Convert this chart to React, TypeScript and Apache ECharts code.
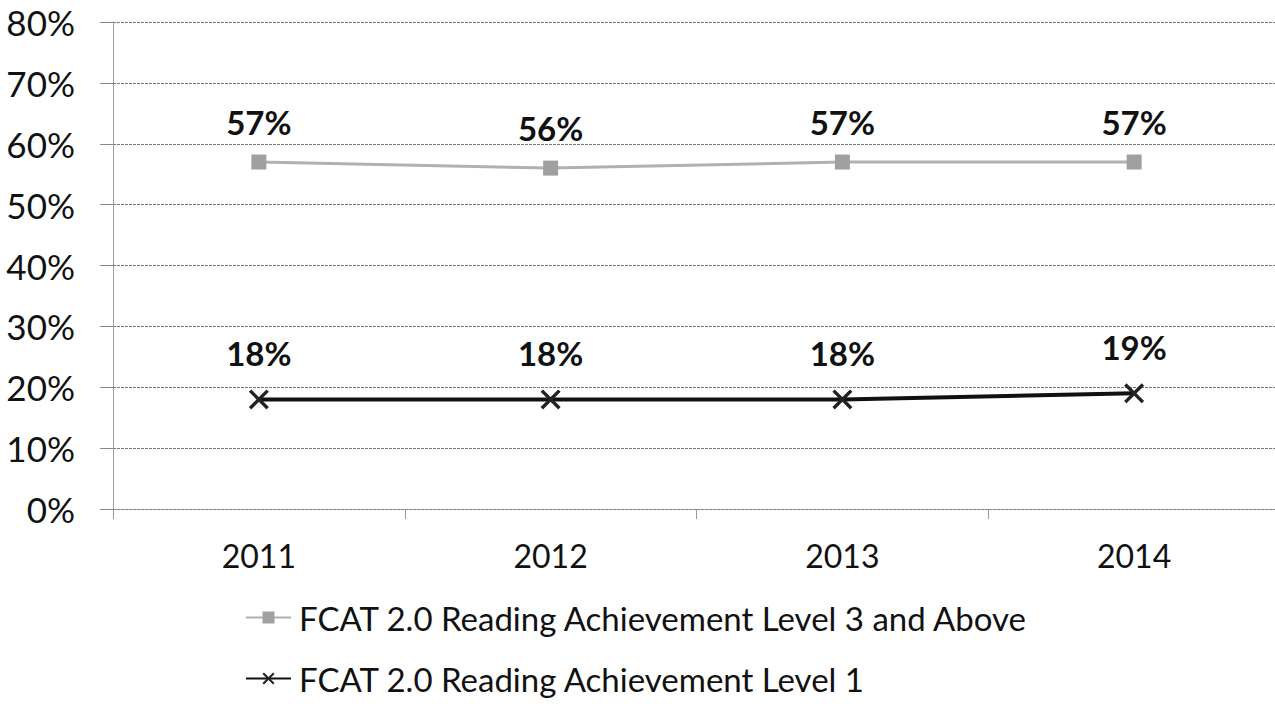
import React, { useEffect, useRef } from "react";
import * as echarts from "echarts";

const years = ["2011", "2012", "2013", "2014"];
const level3AndAbove = [57, 56, 57, 57];
const level1 = [18, 18, 18, 19];
const seriesNames = [
  "FCAT 2.0 Reading Achievement Level 3 and Above",
  "FCAT 2.0 Reading Achievement Level 1",
];

const FONT = "Lato, 'Open Sans', sans-serif";
const X_SYMBOL =
  "path://M0,1.2L1.2,0L10,8.8L8.8,10Z M8.8,0L10,1.2L1.2,10L0,8.8Z";

const legendBase = {
  orient: "horizontal",
  left: 240,
  itemWidth: 45,
  itemHeight: 15,
  textStyle: { fontFamily: FONT, fontSize: 33, color: "#111", padding: [0, 0, 0, 3] },
};

export default function App() {
  const ref = useRef<HTMLDivElement>(null);
  useEffect(() => {
    if (!ref.current) return;
    const chart = echarts.init(ref.current, undefined, { renderer: "svg" });
    chart.setOption({
      animation: false,
      backgroundColor: "#ffffff",
      textStyle: { fontFamily: FONT },
      grid: { left: 113, right: 5, top: 22, bottom: 197, containLabel: false },
      legend: [
        { ...legendBase, top: 596, data: [seriesNames[0]] },
        { ...legendBase, top: 657, data: [seriesNames[1]] },
      ],
      xAxis: {
        type: "category",
        data: years,
        boundaryGap: true,
        axisLine: { lineStyle: { color: "#888", width: 1, type: "dotted" } },
        axisTick: { show: true, length: 10, lineStyle: { color: "#999" } },
        axisLabel: { fontFamily: FONT, fontSize: 32, color: "#111", margin: 30 },
      },
      yAxis: {
        type: "value",
        min: 0,
        max: 80,
        interval: 10,
        axisLine: { show: true, lineStyle: { color: "#888", width: 1, type: "dotted" } },
        axisTick: { show: true, length: 13, lineStyle: { color: "#888" } },
        axisLabel: {
          fontFamily: FONT,
          fontSize: 35,
          color: "#111",
          margin: 38,
          formatter: "{value}%",
        },
        splitLine: { lineStyle: { color: "#777", width: 1, type: [3, 1] } },
      },
      series: [
        {
          name: seriesNames[0],
          type: "line",
          data: level3AndAbove,
          symbol: "rect",
          symbolSize: 15,
          itemStyle: { color: "#a0a0a0" },
          lineStyle: { color: "#b0b0b0", width: 3 },
          label: {
            show: true,
            position: "top",
            distance: 16,
            formatter: "{c}%",
            fontFamily: FONT,
            fontWeight: "bold",
            fontSize: 33,
            color: "#111",
          },
        },
        {
          name: seriesNames[1],
          type: "line",
          data: level1,
          symbol: X_SYMBOL,
          symbolSize: 20,
          itemStyle: { color: "#222" },
          lineStyle: { color: "#111", width: 4 },
          label: {
            show: true,
            position: "top",
            distance: 20,
            formatter: "{c}%",
            fontFamily: FONT,
            fontWeight: "bold",
            fontSize: 33,
            color: "#111",
          },
        },
      ],
    });
    return () => chart.dispose();
  }, []);
  return (
    <div
      style={{
        position: "absolute",
        left: 0,
        top: 0,
        width: 1275,
        height: 706,
        overflow: "hidden",
        background: "#fff",
      }}
    >
      <div ref={ref} style={{ width: 1285, height: 706 }} />
    </div>
  );
}
